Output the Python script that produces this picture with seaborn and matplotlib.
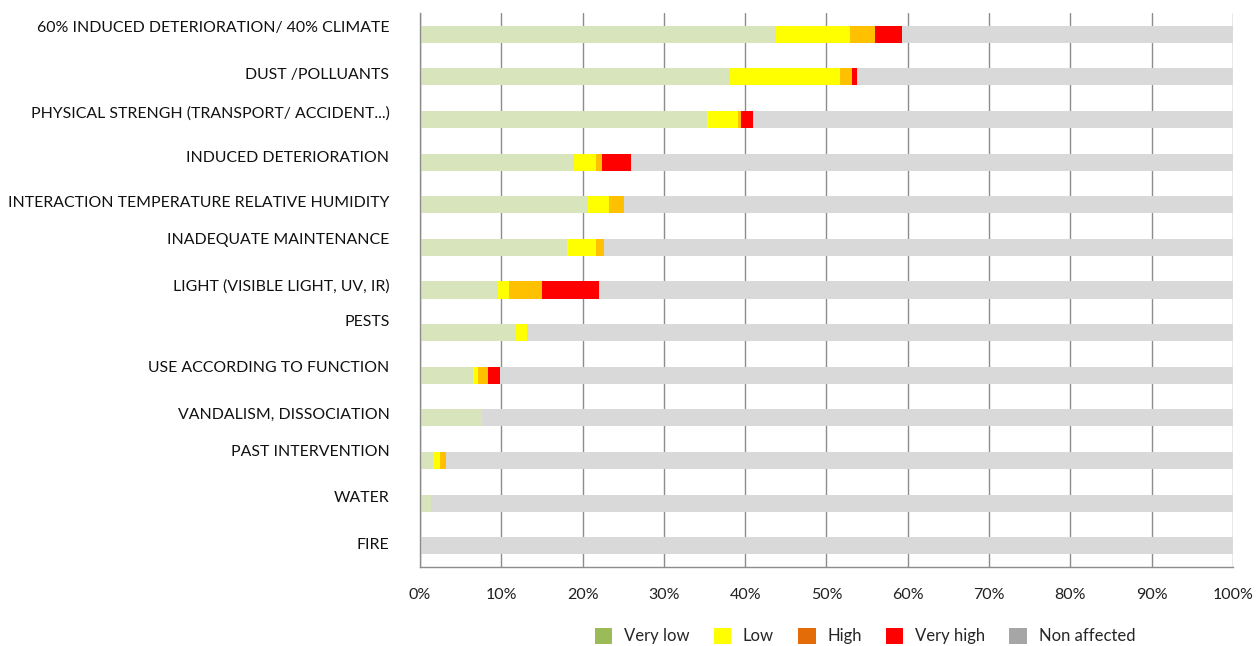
import numpy as np
import pandas as pd
import seaborn as sns
import matplotlib.pyplot as plt
from matplotlib.patches import Patch
from matplotlib.ticker import PercentFormatter, MultipleLocator
from matplotlib.transforms import ScaledTranslation

categories = [
    "60% INDUCED DETERIORATION/ 40% CLIMATE",
    "DUST /POLLUANTS",
    "PHYSICAL STRENGH (TRANSPORT/ ACCIDENT...)",
    "INDUCED DETERIORATION",
    "INTERACTION TEMPERATURE RELATIVE HUMIDITY",
    "INADEQUATE MAINTENANCE",
    "LIGHT (VISIBLE LIGHT, UV, IR)",
    "PESTS",
    "USE ACCORDING TO FUNCTION",
    "VANDALISM, DISSOCIATION",
    "PAST INTERVENTION",
    "WATER",
    "FIRE",
]
very_low = [43.8, 38.1, 35.3, 19.0, 20.7, 18.1, 9.6, 11.8, 6.5, 7.6, 1.6, 1.3, 0.0]
low = [9.1, 13.5, 3.8, 2.6, 2.6, 3.5, 1.4, 1.4, 0.6, 0.0, 0.8, 0.0, 0.0]
high = [3.1, 1.5, 0.4, 0.8, 1.8, 1.0, 4.0, 0.0, 1.3, 0.0, 0.8, 0.0, 0.0]
very_high = [3.3, 0.7, 1.4, 3.5, 0.0, 0.0, 7.0, 0.0, 1.4, 0.0, 0.0, 0.0, 0.0]
non_affected = [100 - a - b - c - d for a, b, c, d in zip(very_low, low, high, very_high)]

series_names = ["Very low", "Low", "High", "Very high", "Non affected"]
bar_colors = ["#D8E4BC", "#FFFF00", "#FFC000", "#FF0000", "#D9D9D9"]
legend_colors = ["#9BBB59", "#FFFF00", "#E36C09", "#FF0000", "#A6A6A6"]

# label vertical offsets (pixels, upward) to mimic the reference layout
label_offsets_px = [7.6, 3.6, 7.8, 5.4, 3.0, 9.0, 4.9, 12.5, 8.4, 4.4, 10.3, 6.2, 2.2]

sns.set_style("white")
plt.rcParams["font.family"] = ["Lato", "DejaVu Sans"]

df = pd.DataFrame({"category": categories, "Very low": very_low, "Low": low,
                   "High": high, "Very high": very_high, "Non affected": non_affected})
cum = df[series_names].cumsum(axis=1)

fig = plt.figure(figsize=(12.58, 6.46), dpi=100)
ax = fig.add_axes([420 / 1258, 1 - 567 / 646, 813 / 1258, 554 / 646])

for name, col in reversed(list(zip(series_names, bar_colors))):
    sns.barplot(x=cum[name], y=df["category"], order=categories, orient="h",
                color=col, saturation=1, width=0.4, linewidth=0, ax=ax)

ax.set_xlim(0, 100)
ax.set_ylim(len(categories) - 0.5, -0.5)
ax.xaxis.set_major_locator(MultipleLocator(10))
ax.xaxis.set_major_formatter(PercentFormatter(decimals=0))
ax.set_xlabel("")
ax.set_ylabel("")
ax.set_axisbelow(True)
ax.grid(axis="x", color="#8C8C8C", linewidth=1)
ax.grid(axis="y", visible=False)

for s in ["top", "right"]:
    ax.spines[s].set_visible(False)
for s in ["left", "bottom"]:
    ax.spines[s].set_color("#8C8C8C")
    ax.spines[s].set_linewidth(1)

ax.tick_params(axis="x", which="major", length=6, width=1, color="#8C8C8C",
               labelsize=11.5, labelcolor="#202020", pad=9, direction="out")
ax.tick_params(axis="y", which="major", length=0, labelsize=11.4, labelcolor="#111111", pad=22)
ax.set_yticks(np.arange(-0.5, len(categories) + 0.5, 1), minor=True)
ax.tick_params(axis="y", which="minor", length=6, width=1, color="#8C8C8C", direction="out")

for lab, off in zip(ax.get_yticklabels(), label_offsets_px):
    lab.set_transform(lab.get_transform() + ScaledTranslation(0, off / 100, fig.dpi_scale_trans))

handles = [Patch(facecolor=c, edgecolor="none", label=n) for n, c in zip(series_names, legend_colors)]
fig.legend(handles=handles, loc="center", bbox_to_anchor=(865 / 1258, 1 - 636 / 646),
           ncol=5, frameon=False, fontsize=12, handlelength=1.05, handleheight=1.1,
           handletextpad=0.7, columnspacing=1.45)

fig.savefig("out.png", dpi=100)
